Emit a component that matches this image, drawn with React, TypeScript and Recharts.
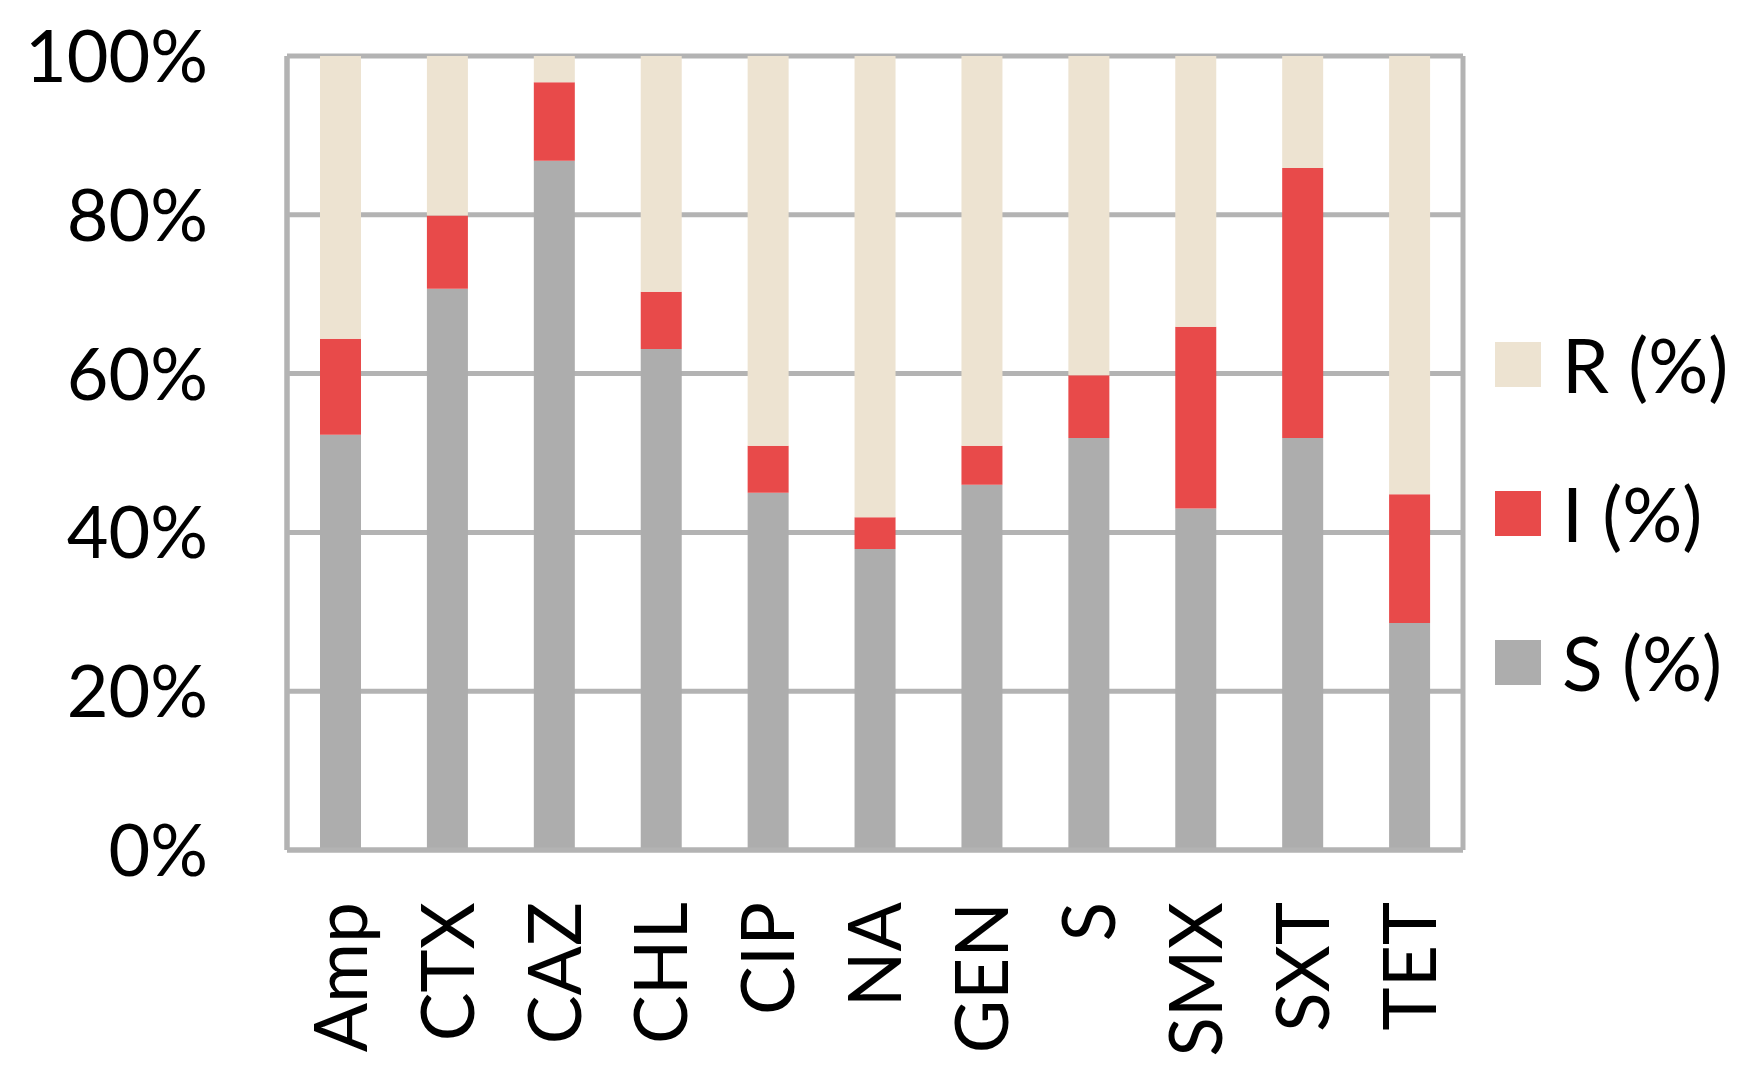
import { BarChart, Bar, XAxis, YAxis, CartesianGrid } from 'recharts';

const drugs = ['Amp', 'CTX', 'CAZ', 'CHL', 'CIP', 'NA', 'GEN', 'S', 'SMX', 'SXT', 'TET'];
const susceptible = [52.3, 70.7, 86.8, 63.1, 45.0, 37.9, 46.0, 51.9, 43.0, 51.9, 28.6];
const intermediate = [12.1, 9.2, 9.9, 7.2, 5.9, 4.0, 4.9, 7.9, 22.9, 34.0, 16.2];
const resistant = [35.6, 20.1, 3.3, 29.7, 49.1, 58.1, 49.1, 40.2, 34.1, 14.1, 55.2];
const yTicks = [0, 20, 40, 60, 80, 100];

const data = drugs.map((name, i) => ({
  name,
  S: susceptible[i],
  I: intermediate[i],
  R: resistant[i],
}));

const FONT = 'Lato, "Open Sans", sans-serif';
const GRID = '#B3B3B3';

const legendItems = [
  { label: 'R (%)', color: '#EDE3D1' },
  { label: 'I (%)', color: '#E84A4A' },
  { label: 'S (%)', color: '#ADADAD' },
];

function YTick({ x, y, payload }: any) {
  return (
    <text x={x} y={y} dy="0.36em" textAnchor="end" fontFamily={FONT} fontSize={72} fill="#000">
      {payload.value}%
    </text>
  );
}

function XTick({ x, y, payload }: any) {
  return (
    <text
      transform={`translate(${x},${y + 44}) rotate(-90)`}
      dy="0.36em"
      textAnchor="end"
      fontFamily={FONT}
      fontSize={73}
      fill="#000"
    >
      {payload.value}
    </text>
  );
}

function LegendBox() {
  return (
    <div style={{ position: 'absolute', left: 1495, top: 290, display: 'flex', flexDirection: 'column' }}>
      {legendItems.map((it) => (
        <div key={it.label} style={{ display: 'flex', alignItems: 'center', height: 149 }}>
          <div style={{ width: 46, height: 45, background: it.color, marginRight: 21 }} />
          <span style={{ fontFamily: FONT, fontSize: 75, lineHeight: 1, color: '#000' }}>{it.label}</span>
        </div>
      ))}
    </div>
  );
}

export default function App() {
  return (
    <div style={{ position: 'absolute', left: 0, top: 0, width: 1760, height: 1089, background: '#fff' }}>
      <BarChart
        width={1760}
        height={1089}
        data={data}
        margin={{ top: 56, right: 297, bottom: 0, left: 0 }}
        barSize={41}
      >
        <CartesianGrid
          stroke={GRID}
          strokeWidth={5}
          horizontal={true}
          vertical={true}
          verticalPoints={[287, 1463]}
        />
        <XAxis
          dataKey="name"
          interval={0}
          height={239}
          tickLine={false}
          axisLine={{ stroke: GRID, strokeWidth: 5 }}
          tick={<XTick />}
        />
        <YAxis
          domain={[0, 100]}
          ticks={yTicks}
          width={287}
          tickLine={false}
          axisLine={{ stroke: GRID, strokeWidth: 5 }}
          tickMargin={73}
          tick={<YTick />}
        />
        <Bar dataKey="S" stackId="a" fill="#ADADAD" isAnimationActive={false} />
        <Bar dataKey="I" stackId="a" fill="#E84A4A" isAnimationActive={false} />
        <Bar dataKey="R" stackId="a" fill="#EDE3D1" isAnimationActive={false} />
      </BarChart>
      <LegendBox />
    </div>
  );
}
